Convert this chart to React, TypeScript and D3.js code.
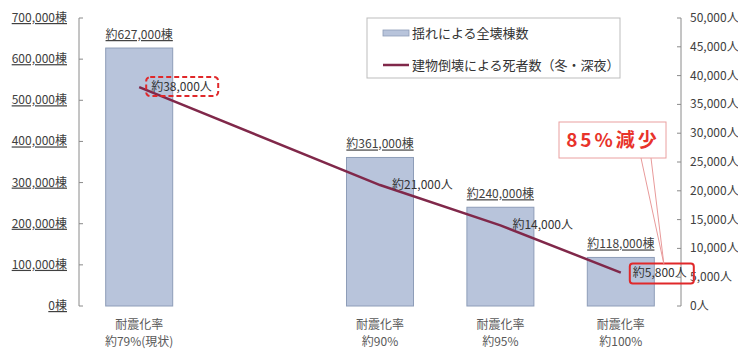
import React from "react";
import * as d3 from "d3";

const categories = ["約79%(現状)", "_gap", "約90%", "約95%", "約100%"];
const categoryTop = "耐震化率";
const buildings: (number | null)[] = [627000, null, 361000, 240000, 118000];
const buildingLabels = ["約627,000棟", "", "約361,000棟", "約240,000棟", "約118,000棟"];
const deaths: (number | null)[] = [38000, null, 21000, 14000, 5800];
const deathLabels = ["約38,000人", "", "約21,000人", "約14,000人", "約5,800人"];
const leftTicks = [0, 100000, 200000, 300000, 400000, 500000, 600000, 700000];
const rightTicks = [0, 5000, 10000, 15000, 20000, 25000, 30000, 35000, 40000, 45000, 50000];
const legendLabels = ["揺れによる全壊棟数", "建物倒壊による死者数（冬・深夜）"];
const calloutText = "85%減少";

const W = 738, H = 349;
const FONT = "'Noto Sans CJK JP', 'Liberation Sans', sans-serif";
const BAR_FILL = "#b8c4db";
const BAR_STROKE = "#8e9db8";
const LINE = "#80284a";
const TXT = "#404040";
const RED = "#e0282a";

export default function App() {
  const x = d3.scaleBand<string>().domain(categories).range([79, 681]).paddingInner(0.4435).paddingOuter(0.4435 / 2);
  const yL = d3.scaleLinear().domain([0, 700000]).range([306, 18]);
  const yR = d3.scaleLinear().domain([0, 50000]).range([306, 18]);
  const fmt = d3.format(",");
  const cx = (c: string) => (x(c) as number) + x.bandwidth() / 2;

  const pts = categories
    .map((c, i) => ({ c, i, v: deaths[i] }))
    .filter((d) => d.v != null) as { c: string; i: number; v: number }[];
  const line = d3.line<{ c: string; v: number }>().x((d) => cx(d.c)).y((d) => yR(d.v));

  const last = pts[pts.length - 1];
  const first = pts[0];

  return (
    <svg width={W} height={H} style={{ position: "absolute", left: 0, top: 0, background: "#fff" }} fontFamily={FONT}>
      {/* bars */}
      {categories.map((c, i) =>
        buildings[i] == null ? null : (
          <g key={c}>
            <rect x={x(c)} y={yL(buildings[i] as number)} width={x.bandwidth()} height={yL(0) - yL(buildings[i] as number)}
              fill={BAR_FILL} stroke={BAR_STROKE} strokeWidth={1} />
            <text x={cx(c)} y={yL(buildings[i] as number) - 9} textAnchor="middle" fontSize={12} fill={TXT}
              style={{ textDecoration: "underline" }}>{buildingLabels[i]}</text>
            <text x={cx(c)} y={329} textAnchor="middle" fontSize={12} fill="#595959">{categoryTop}</text>
            <text x={cx(c)} y={346} textAnchor="middle" fontSize={12} fill="#595959">{categories[i]}</text>
          </g>
        )
      )}

      {/* left axis */}
      <line x1={79} x2={79} y1={yL(700000)} y2={yL(0)} stroke="#8a8a8a" />
      {leftTicks.map((t) => (
        <g key={t}>
          <line x1={79} x2={83} y1={yL(t)} y2={yL(t)} stroke="#8a8a8a" />
          <text x={67} y={yL(t) + 4} textAnchor="end" fontSize={12} fill={TXT} style={{ textDecoration: "underline" }}>
            {fmt(t)}棟
          </text>
        </g>
      ))}

      {/* right axis */}
      <line x1={681} x2={681} y1={yR(50000)} y2={yR(0)} stroke="#8a8a8a" />
      {rightTicks.map((t) => (
        <g key={t}>
          <line x1={677} x2={681} y1={yR(t)} y2={yR(t)} stroke="#8a8a8a" />
          <text x={690} y={yR(t) + 4} textAnchor="start" fontSize={12} fill={TXT}>{fmt(t)}人</text>
        </g>
      ))}

      {/* line */}
      <path d={line(pts) as string} fill="none" stroke={LINE} strokeWidth={2.5} />
      {pts.map((d) => (
        <text key={d.c} x={cx(d.c) + 12} y={yR(d.v) + 4} fontSize={12} fill="#333">{deathLabels[d.i]}</text>
      ))}

      {/* highlight boxes */}
      <rect x={cx(first.c) + 7} y={yR(first.v) - 10} width={72} height={19} rx={4} fill="none" stroke={RED}
        strokeWidth={2} strokeDasharray="5,3" />
      <rect x={cx(last.c) + 9} y={yR(last.v) - 9} width={64} height={20} rx={3} fill="none" stroke={RED} strokeWidth={2} />

      {/* callout */}
      <path d={`M641,158 L${cx(last.c) + 43},${yR(last.v) - 9} L651,158`} fill="none" stroke="#e89a9a" strokeWidth={1} />
      <rect x={559} y={122} width={107} height={36} fill="#fff" stroke="#eaa0a0" strokeWidth={1} />
      <text x={613} y={147} textAnchor="middle" fontSize={19} fontWeight="bold" fill="#e8332a" letterSpacing={3}>
        {calloutText}
      </text>

      {/* legend */}
      <rect x={367} y={18} width={253} height={60} fill="#fff" stroke="#bdbdbd" />
      <rect x={383} y={30} width={26} height={6} fill={BAR_FILL} stroke={BAR_STROKE} strokeWidth={0.8} />
      <text x={412} y={38} fontSize={13} fill="#333">{legendLabels[0]}</text>
      <line x1={383} x2={409} y1={65} y2={65} stroke={LINE} strokeWidth={2.5} />
      <text x={412} y={70} fontSize={13} fill="#333">{legendLabels[1]}</text>
    </svg>
  );
}
